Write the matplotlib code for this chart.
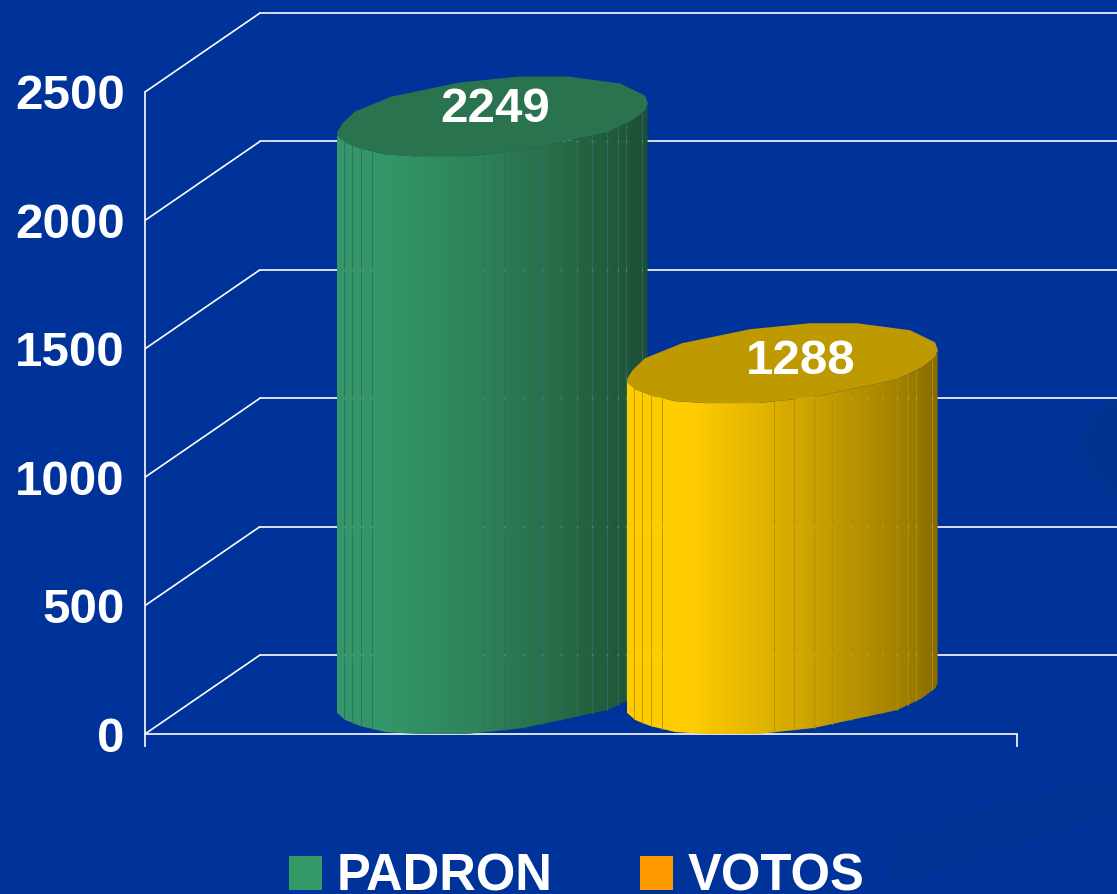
import numpy as np
import matplotlib
matplotlib.use("Agg")
import matplotlib.pyplot as plt
from matplotlib.patches import Polygon, Patch
from matplotlib.colors import LinearSegmentedColormap

categories = ["PADRON", "VOTOS"]
values = [2249, 1288]
value_labels = ["2249", "1288"]
y_ticks = [0, 500, 1000, 1500, 2000, 2500]
legend_colors = ["#339966", "#FF9900"]

BG = "#003399"
W, H = 1117, 894
AX_L, AX_R, AX_T, AX_B = 145, 1017, 92, 734
PX_PER_CAT = 290.0
CENTER0 = 492.5
PX_PER_VAL = (AX_B - AX_T) / 2500

plt.rcParams["font.family"] = ["Liberation Sans", "DejaVu Sans"]
plt.rcParams["font.weight"] = "bold"

fig = plt.figure(figsize=(W / 100, H / 100), dpi=100, facecolor=BG)
ax = fig.add_axes([AX_L / W, 1 - AX_B / H, (AX_R - AX_L) / W, (AX_B - AX_T) / H])
ax.set_facecolor("none")
ax.set_ylim(0, 2500)
ax.set_xlim((AX_L - CENTER0) / PX_PER_CAT, (AX_R - CENTER0) / PX_PER_CAT)

dx = lambda px: np.asarray(px, float) / PX_PER_CAT
dy = lambda px: np.asarray(px, float) / PX_PER_VAL

# faint background shapes (figure pixel coordinates)
def fig_poly(pts, color):
    p = np.array(pts, float)
    p[:, 0] /= W
    p[:, 1] = 1 - p[:, 1] / H
    fig.add_artist(Polygon(p, closed=True, transform=fig.transFigure, fc=color, ec="none", zorder=0))

fig_poly([(880, 894), (900, 832), (1017, 800), (1117, 773), (1117, 813), (1017, 843), (910, 880)], "#003394")
fig_poly([(1068, 448), (1082, 420), (1117, 398), (1117, 505), (1085, 478)], "#003394")
fig_poly([(1081, 440), (1095, 415), (1117, 400), (1117, 497), (1092, 470)], "#00338E")

# grid in oblique depth
GRID_DX, GRID_DY = 115, 79
x_left = ax.get_xlim()[0]
for v in y_ticks:
    ax.plot([x_left, x_left + dx(GRID_DX)], [v, v + dy(GRID_DY)],
            color="white", lw=1.2, clip_on=False, zorder=1, solid_capstyle="butt")
    ax.plot([x_left + dx(GRID_DX), x_left + dx(W - AX_L)],
            [v + dy(GRID_DY)] * 2, color="white", lw=1.2, clip_on=False, zorder=1)

# cylinder shape: pixels from the centre / front-lowest point, positive = upward
HALF = 155.5
upper = np.array([(-155.5, 24), (-150, 33), (-137.5, 45), (-100.5, 60), (-32.5, 74), (27.5, 80),
                  (74.5, 80), (127.5, 73), (152.5, 61), (155.5, 53)], float)
lower = np.array([(-155.5, 21), (-147.5, 14), (-132.5, 8), (-107.5, 2), (-75.5, 0), (-25.5, 0),
                  (30.5, 6), (114.5, 24), (139.5, 36), (152.5, 46), (155.5, 53)], float)
facet_px = [-155.5, -148.5, -140.5, -131.5, -120.5, -8.5, 11.5, 31.5, 49.5, 68.5, 84.5, 99.5, 114.5, 125.5, 133.5, 149.5]

cmaps = [
    LinearSegmentedColormap.from_list("g", [(0, "#35966A"), (0.15, "#339667"), (0.48, "#2D8058"),
                                            (0.8, "#24623F"), (1, "#1D4E36")]),
    LinearSegmentedColormap.from_list("y", [(0, "#FFCC00"), (0.2, "#FFCC00"), (0.47, "#DCB000"),
                                            (0.72, "#B89300"), (0.9, "#9E7E00"), (1, "#866B00")]),
]
top_colors = ["#2A734F", "#BF9900"]
line_colors = ["#2B6F6A", "#B09000"]
LABEL_OFFSET = [(2.5, 47), (18, 42)]

for i, (val, cmap) in enumerate(zip(values, cmaps)):
    z = 3 + i
    xs_px = np.arange(-HALF, HALF + 0.01, 2.0)
    low = np.interp(xs_px, lower[:, 0], lower[:, 1])
    for k in range(len(xs_px) - 1):
        a, b = xs_px[k], xs_px[k + 1] + 0.6
        la, lb = low[k], low[k + 1]
        poly = [(i + dx(a), dy(la)), (i + dx(b), dy(lb)),
                (i + dx(b), val + dy(lb)), (i + dx(a), val + dy(la))]
        ax.add_patch(Polygon(poly, fc=cmap((a + HALF) / (2 * HALF)), ec="none", zorder=z, clip_on=False))
    for f in facet_px[1:]:
        lf = np.interp(f, lower[:, 0], lower[:, 1])
        ax.plot([i + dx(f)] * 2, [dy(lf), val + dy(lf)], color=line_colors[i], lw=0.6, zorder=z + 0.1)
        # the grid shows faintly through the joins between facets
        ys = [v + dy(GRID_DY) for v in y_ticks if dy(lf) < v + dy(GRID_DY) < val + dy(lf)]
        ax.plot([i + dx(f)] * len(ys), ys, ls="none", marker="s", ms=1.2, mew=0, color="white",
                alpha=0.2, zorder=z + 0.15, clip_on=False)
    top = np.vstack([upper, lower[::-1][1:]])
    pts = np.column_stack([i + dx(top[:, 0]), val + dy(top[:, 1])])
    ax.add_patch(Polygon(pts, fc=top_colors[i], ec="none", zorder=z + 0.2, clip_on=False))
    ax.text(i + dx(LABEL_OFFSET[i][0]), val + dy(LABEL_OFFSET[i][1]), value_labels[i],
            color="white", fontsize=35.5, fontweight="bold", ha="center", va="center", zorder=z + 0.3)

# axes
for s in ("top", "right"):
    ax.spines[s].set_visible(False)
for s in ("left", "bottom"):
    ax.spines[s].set_color("white")
    ax.spines[s].set_linewidth(1.2)
    ax.spines[s].set_zorder(2)
ax.set_yticks(y_ticks)
ax.set_yticklabels([str(v) for v in y_ticks])
ax.tick_params(axis="y", length=0, pad=14.5, labelsize=35.5, labelcolor="white")
ax.set_xticks(list(ax.get_xlim()))
ax.set_xticklabels(["", ""])
ax.tick_params(axis="x", length=9, width=1.2, color="white")

handles = [Patch(fc=c, ec="none", label=n) for c, n in zip(legend_colors, categories)]
fig.legend(handles=handles, loc="center", bbox_to_anchor=(577 / W, 1 - 877 / H), ncol=2, frameon=False,
           fontsize=36.5, labelcolor="white", handlelength=0.64, handleheight=0.66,
           handletextpad=0.3, columnspacing=1.72, borderpad=0, borderaxespad=0)

fig.savefig("out.png", dpi=100, facecolor=BG)
